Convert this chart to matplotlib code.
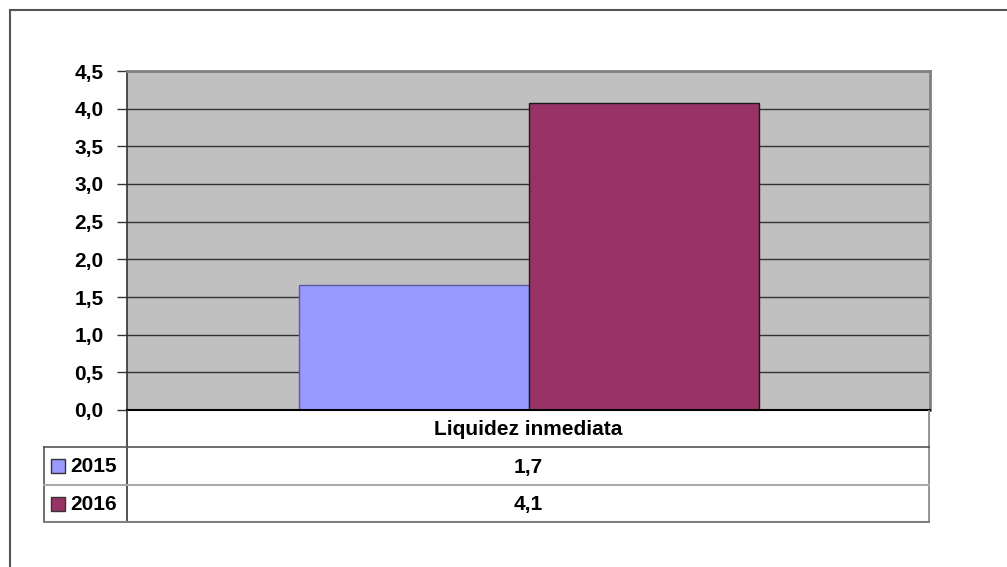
import matplotlib.pyplot as plt
from matplotlib.patches import Rectangle
from matplotlib.lines import Line2D

# data
category = 'Liquidez inmediata'
years = ['2015', '2016']
values = [1.66, 4.08]
labels = ['1,7', '4,1']
colors = ['#9999FF', '#993366']
edges = ['#5a5aa0', '#1a1a1a']

W, H = 1007, 567
plt.rcParams['font.family'] = ['Liberation Sans', 'DejaVu Sans']
plt.rcParams['font.weight'] = 'bold'
fs = 15

fig = plt.figure(figsize=(W / 100, H / 100), dpi=100)


def px_box(x0, y0, x1, y1):
    # pixel box (top-left origin) -> figure fraction rect
    return [x0 / W, 1 - y1 / H, (x1 - x0) / W, (y1 - y0) / H]


# outer chart frame (only top and left are visible)
fig.add_artist(Rectangle((9.5 / W, -0.1), 1.2, (H - 9.5) / H + 0.1,
                         transform=fig.transFigure, fill=False,
                         edgecolor='#555555', lw=1.5))

ax = fig.add_axes(px_box(127, 71, 930, 410))
ax.set_facecolor('#C0C0C0')
bw = 230 / 803
offs = [-bw / 2, bw / 2]
for i in range(len(years)):
    ax.bar(offs[i], values[i], width=bw, color=colors[i],
           edgecolor=edges[i], linewidth=1.0, zorder=3)

ax.set_xlim(-0.5, 0.5)
ax.set_ylim(0, 4.5)
yt = [i * 0.5 for i in range(10)]
ax.set_yticks(yt)
ax.set_yticklabels([f'{v:.1f}'.replace('.', ',') for v in yt],
                   fontsize=fs, fontweight='bold')
ax.set_xticks([])
ax.yaxis.grid(True, color='#333333', lw=1.0, zorder=1)
ax.tick_params(axis='y', length=7, width=1, color='#333333', pad=10)
for s in ['top', 'right']:
    ax.spines[s].set_color('#808080')
    ax.spines[s].set_linewidth(2)
ax.spines['left'].set_color('#333333')
ax.spines['left'].set_linewidth(1.2)
ax.spines['bottom'].set_color('#000000')
ax.spines['bottom'].set_linewidth(1.5)
ax.spines['bottom'].set_zorder(4)

# data table below the plot
tb = fig.add_axes(px_box(43, 410, 930, 523))
tb.set_xlim(43, 930)
tb.set_ylim(523, 410)
tb.axis('off')
rows = [410, 447, 485, 522]
lc = '#555555'
# vertical lines
tb.add_line(Line2D([127, 127], [410, 522], color='#333333', lw=1.2))
tb.add_line(Line2D([929, 929], [410, 522], color='#909090', lw=2))
tb.add_line(Line2D([43.5, 43.5], [447, 522], color=lc, lw=1.2))
# horizontal lines
tb.add_line(Line2D([43, 930], [447, 447], color=lc, lw=1.2))
tb.add_line(Line2D([43, 930], [485, 485], color='#aaaaaa', lw=1.5))
tb.add_line(Line2D([43, 930], [522, 522], color='#808080', lw=1.5))

tb.text(528.5, (rows[0] + rows[1]) / 2 + 1, category, ha='center', va='center',
        fontsize=fs, fontweight='bold')
for i in range(len(years)):
    yc = (rows[i + 1] + rows[i + 2]) / 2
    tb.add_patch(Rectangle((51, yc - 7), 14, 14, facecolor=colors[i],
                           edgecolor='#333333', lw=1))
    tb.text(70, yc + 1, years[i], ha='left', va='center',
            fontsize=fs, fontweight='bold')
    tb.text(528.5, yc + 1, labels[i], ha='center', va='center',
            fontsize=fs, fontweight='bold')

fig.savefig('out.png', dpi=100)
